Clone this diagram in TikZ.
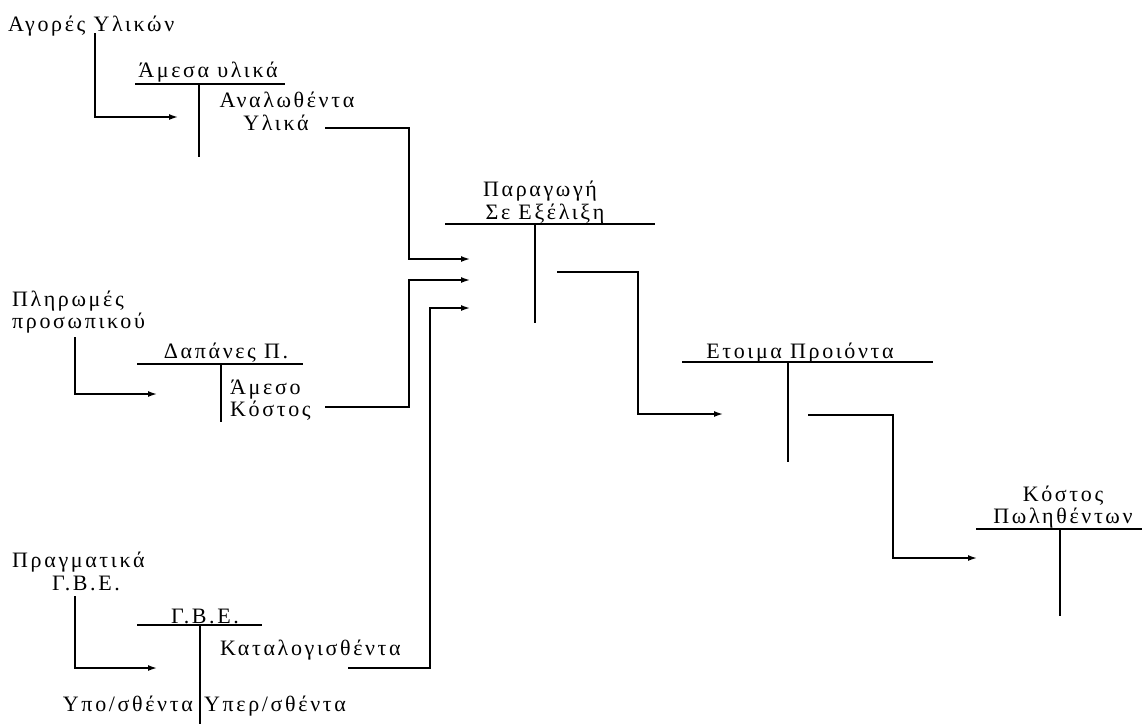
\documentclass[tikz,border=0pt]{standalone}
\usepackage{fontspec}
\setmainfont{Liberation Serif}[LetterSpace=12]
\usetikzlibrary{arrows.meta}
\newcommand{\pairlines}[3]{\begin{tabular}[t]{@{}#1@{}}\smash{#2}\\\smash{#3}\end{tabular}}
\begin{document}
\begin{tikzpicture}[x=1pt,y=-1pt,
  every node/.style={inner sep=0pt,text height=13pt,text depth=3pt,font=\fontsize{22}{22.5}\selectfont},
  pair/.style={text depth=25pt},
  acct/.style={line width=1.5pt},
  flow/.style={line width=1.5pt,-{Latex[length=9pt,width=6pt]}}]
\useasboundingbox (0,0) rectangle (1146,724);
% ---------- texts ----------
\node[anchor=base west] (agores) at (8,31) {Αγορές Υλικών};
\node[anchor=base] (amesaulika) at (208,77) {Άμεσα υλικά};
\node[anchor=base] (analothenta) at (287,107) {Αναλωθέντα};
\node[anchor=base] (ulika) at (276,130) {Υλικά};
\node[anchor=base] (paragogi) at (540,196) {Παραγωγή};
\node[anchor=base] (exelixi) at (545,219) {Σε Εξέλιξη};
\node[pair,anchor=base west] (pliromes) at (12,306) {\pairlines{l}{Πληρωμές}{προσωπικού}};
\node[anchor=base] (dapanes) at (226,358) {Δαπάνες Π.};
\node[pair,anchor=base west] (ameso) at (230,394) {\pairlines{l}{Άμεσο}{Κόστος}};
\node[anchor=base west] (pragmatika) at (12,567) {Πραγματικά};
\node[anchor=base] (gbe1) at (86,590) {Γ.Β.Ε.};
\node[anchor=base] (gbe2) at (205,623) {Γ.Β.Ε.};
\node[anchor=base west] (katalog) at (220,655) {Καταλογισθέντα};
\node[anchor=base east] (upo) at (193,711) {Υπο/σθέντα};
\node[anchor=base west] (uper) at (204,711) {Υπερ/σθέντα};
\node[anchor=base] (etoima) at (800,358) {Ετοιμα Προιόντα};
\node[pair,anchor=base] (kostos2) at (1063,501) {\pairlines{c}{Κόστος}{Πωληθέντων}};
% ---------- T accounts ----------
\draw[acct] (135,84) -- (285,84) (199,84) -- (199,157);
\draw[acct] (137,364) -- (303,364) (221,364) -- (221,422);
\draw[acct] (137,625) -- (262,625) (200,625) -- (200,724);
\draw[acct] (445,224) -- (655,224) (535,224) -- (535,323);
\draw[acct] (682,362) -- (933,362) (788,362) -- (788,462);
\draw[acct] (976,529) -- (1142,529) (1060,529) -- (1060,616);
% ---------- connector ends ----------
\coordinate (a1) at (95,33);   \coordinate (a2) at (178,117);
\coordinate (b1) at (75,337);  \coordinate (b2) at (157,394);
\coordinate (c1) at (75,596);  \coordinate (c2) at (157,668);
\coordinate (d1) at (325,128); \coordinate (d2) at (470,259);
\coordinate (e1) at (325,407); \coordinate (e2) at (470,280);
\coordinate (f1) at (348,668); \coordinate (f2) at (470,308);
\coordinate (g1) at (557,272); \coordinate (g2) at (723,414);
\coordinate (h1) at (808,415); \coordinate (h2) at (977,558);
% ---------- connectors ----------
\draw[flow] (a1) |- (a2);
\draw[flow] (b1) |- (b2);
\draw[flow] (c1) |- (c2);
\draw[flow] (d1) -- (409,128) |- (d2);
\draw[flow] (e1) -- (409,407) |- (e2);
\draw[flow] (f1) -- (430,668) |- (f2);
\draw[flow] (g1) -- (638,272) |- (g2);
\draw[flow] (h1) -- (893,415) |- (h2);
\end{tikzpicture}
\end{document}
